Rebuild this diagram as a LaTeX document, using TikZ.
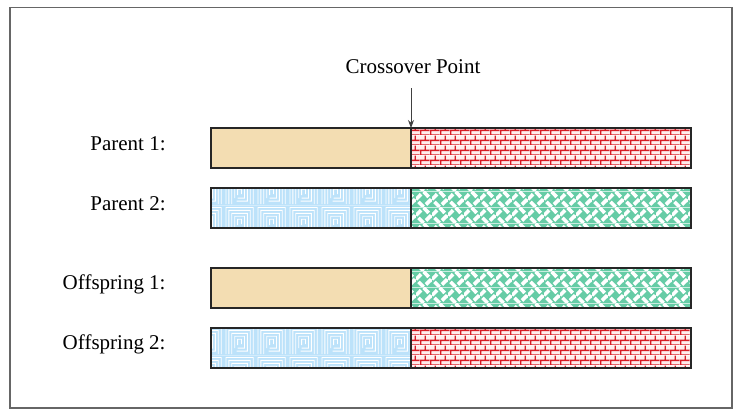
\documentclass[tikz,border=0pt]{standalone}
\usepackage{fontspec}
\setmainfont{Liberation Serif}
\usetikzlibrary{patterns,arrows.meta}
\definecolor{beige}{RGB}{243,221,178}
\definecolor{brickred}{RGB}{215,25,35}
\definecolor{weavegreen}{RGB}{102,204,166}
\definecolor{spiralblue}{RGB}{188,226,250}
\pgfdeclarepatterninherentlycolored{redbricks}{\pgfpointorigin}{\pgfqpoint{5pt}{5pt}}{\pgfqpoint{5pt}{5pt}}{%
  \pgfsetfillcolor{white!92!red}%
  \pgfpathrectangle{\pgfpointorigin}{\pgfqpoint{5pt}{5pt}}\pgfusepath{fill}%
  \pgfsetstrokecolor{brickred}\pgfsetlinewidth{0.7pt}%
  \pgfpathmoveto{\pgfqpoint{0pt}{0pt}}\pgfpathlineto{\pgfqpoint{5pt}{0pt}}%
  \pgfpathmoveto{\pgfqpoint{0pt}{2.5pt}}\pgfpathlineto{\pgfqpoint{5pt}{2.5pt}}%
  \pgfpathmoveto{\pgfqpoint{0.35pt}{0pt}}\pgfpathlineto{\pgfqpoint{0.35pt}{2.5pt}}%
  \pgfpathmoveto{\pgfqpoint{2.85pt}{2.5pt}}\pgfpathlineto{\pgfqpoint{2.85pt}{5pt}}%
  \pgfusepath{stroke}}
\pgfdeclarepatterninherentlycolored{greenweave}{\pgfpointorigin}{\pgfqpoint{8pt}{8pt}}{\pgfqpoint{8pt}{8pt}}{%
  \pgfsetfillcolor{weavegreen}%
  \pgfpathrectangle{\pgfpointorigin}{\pgfqpoint{8pt}{8pt}}\pgfusepath{fill}%
  \pgfsetstrokecolor{white}\pgfsetlinewidth{1.9pt}\pgfsetbuttcap
  \pgfpathmoveto{\pgfqpoint{5.3pt}{1.3pt}}\pgfpathlineto{\pgfqpoint{8pt}{4pt}}%
  \pgfpathmoveto{\pgfqpoint{0pt}{4pt}}\pgfpathlineto{\pgfqpoint{2.7pt}{6.7pt}}%
  \pgfpathmoveto{\pgfqpoint{1.3pt}{2.7pt}}\pgfpathlineto{\pgfqpoint{4pt}{0pt}}%
  \pgfpathmoveto{\pgfqpoint{4pt}{8pt}}\pgfpathlineto{\pgfqpoint{6.7pt}{5.3pt}}%
  \pgfusepath{stroke}}
\pgfdeclarepatterninherentlycolored{bluespiral}{\pgfpointorigin}{\pgfqpoint{16pt}{15pt}}{\pgfqpoint{16pt}{15pt}}{%
  \pgfsetfillcolor{spiralblue}%
  \pgfpathrectangle{\pgfpointorigin}{\pgfqpoint{16pt}{15pt}}\pgfusepath{fill}%
  \pgfsetstrokecolor{white}\pgfsetlinewidth{0.45pt}%
  \pgfpathmoveto{\pgfqpoint{1pt}{0.5pt}}\pgfpathlineto{\pgfqpoint{1pt}{14pt}}\pgfpathlineto{\pgfqpoint{15pt}{14pt}}\pgfpathlineto{\pgfqpoint{15pt}{0.5pt}}%
  \pgfpathmoveto{\pgfqpoint{2.5pt}{0.5pt}}\pgfpathlineto{\pgfqpoint{2.5pt}{12.5pt}}\pgfpathlineto{\pgfqpoint{13.5pt}{12.5pt}}\pgfpathlineto{\pgfqpoint{13.5pt}{0.5pt}}%
  \pgfpathmoveto{\pgfqpoint{4pt}{0.5pt}}\pgfpathlineto{\pgfqpoint{4pt}{11pt}}\pgfpathlineto{\pgfqpoint{12pt}{11pt}}\pgfpathlineto{\pgfqpoint{12pt}{2pt}}\pgfpathlineto{\pgfqpoint{6.5pt}{2pt}}%
  \pgfpathmoveto{\pgfqpoint{5.5pt}{3.5pt}}\pgfpathlineto{\pgfqpoint{5.5pt}{9.5pt}}\pgfpathlineto{\pgfqpoint{10.5pt}{9.5pt}}\pgfpathlineto{\pgfqpoint{10.5pt}{3.5pt}}\pgfpathlineto{\pgfqpoint{7pt}{3.5pt}}%
  \pgfpathmoveto{\pgfqpoint{7pt}{5pt}}\pgfpathlineto{\pgfqpoint{7pt}{8pt}}\pgfpathlineto{\pgfqpoint{9pt}{8pt}}\pgfpathlineto{\pgfqpoint{9pt}{5.5pt}}%
  \pgfusepath{stroke}}
\begin{document}
\begin{tikzpicture}[x=0.5pt,y=-0.5pt,
  seg/.style={draw=black!85,line width=0.55pt},
  lbl/.style={anchor=east,inner sep=0pt,font=\fontsize{10.5pt}{12pt}\selectfont}]
\useasboundingbox (0,0) rectangle (740,414);
\draw[gray!80!black,line width=0.7pt] (10,7.5) rectangle (732,408);
% rows
\node[lbl] (l1) at (166,144) {Parent 1:};
\node[lbl] (l2) at (166,204) {Parent 2:};
\node[lbl] (l3) at (166,284) {Offspring 1:};
\node[lbl] (l4) at (166,344) {Offspring 2:};
\path[seg,fill=beige] (211,128) rectangle (411,168);
\path[seg,pattern=redbricks] (411,128) rectangle (691,168);
\path[seg,pattern=bluespiral] (211,188) rectangle (411,228);
\path[seg,pattern=greenweave] (411,188) rectangle (691,228);
\path[seg,fill=beige] (211,268) rectangle (411,308);
\path[seg,pattern=greenweave] (411,268) rectangle (691,308);
\path[seg,pattern=bluespiral] (211,328) rectangle (411,368);
\path[seg,pattern=redbricks] (411,328) rectangle (691,368);
\draw[seg] (211,128) rectangle (691,168) (411,128) -- (411,168);
\draw[seg] (211,188) rectangle (691,228) (411,188) -- (411,228);
\draw[seg] (211,268) rectangle (691,308) (411,268) -- (411,308);
\draw[seg] (211,328) rectangle (691,368) (411,328) -- (411,368);
\node[inner sep=0pt,font=\fontsize{10.5pt}{12pt}\selectfont] (cp) at (413,67) {Crossover Point};
\coordinate (tip) at (411,128);
\draw[gray!50!black,line width=0.45pt,-{Stealth[length=4pt,width=3pt]}] (411,88) -- (tip);
\end{tikzpicture}
\end{document}
